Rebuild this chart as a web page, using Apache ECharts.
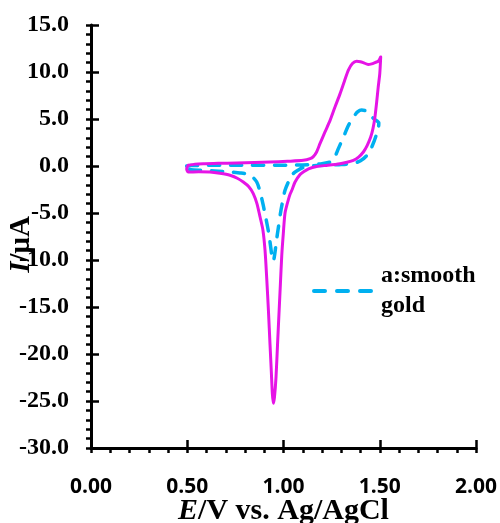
<!DOCTYPE html>
<html>
<head>
<meta charset="utf-8">
<script src="https://cdn.jsdelivr.net/npm/echarts@6/dist/echarts.min.js"></script>
<style>
html,body{margin:0;padding:0;background:#fff;}
#chart{width:500px;height:523px;}
</style>
</head>
<body>
<div id="chart"></div>
<script>
// Axis ranges and tick labels
const xMin = 0, xMax = 2, xStep = 0.5;
const yMin = -30, yMax = 15, yStep = 5;
const xTickLabels = ['0.00', '0.50', '1.00', '1.50', '2.00'];
const yTickLabels = ['-30.0', '-25.0', '-20.0', '-15.0', '-10.0', '-5.0', '0.0', '5.0', '10.0', '15.0'];

// Series b (magenta, solid): [E (V), I (uA)] in scan order
const curveB = [
  [0.505, 0.07], [0.54, 0.2], [0.583, 0.25], [0.66, 0.28], [0.757, 0.32], [0.85, 0.37], [0.93, 0.42],
  [1.02, 0.5], [1.103, 0.6], [1.138, 0.78], [1.155, 1.0], [1.172, 1.49], [1.19, 2.4], [1.215, 3.6],
  [1.242, 4.85], [1.268, 6.3], [1.294, 7.7], [1.316, 9.0], [1.337, 10.2], [1.358, 10.9], [1.38, 11.15],
  [1.40, 11.1], [1.414, 11.0], [1.44, 10.8], [1.458, 10.87], [1.475, 11.0], [1.493, 11.15], [1.505, 11.6],
  [1.500, 9.8], [1.492, 8.4], [1.484, 6.8], [1.475, 5.2], [1.465, 4.0], [1.453, 3.08], [1.435, 2.2],
  [1.415, 1.49], [1.39, 0.95], [1.363, 0.6], [1.33, 0.4], [1.294, 0.25], [1.23, 0.08], [1.172, -0.05],
  [1.13, -0.3], [1.103, -0.64], [1.086, -0.9], [1.06, -1.7], [1.045, -2.5], [1.034, -3.0], [1.025, -3.6],
  [1.008, -5.0], [0.999, -7.2], [0.991, -9.5], [0.984, -12.5], [0.977, -15.5], [0.969, -19], [0.961, -22.5],
  [0.953, -24.6], [0.947, -25.25], [0.942, -24.2], [0.937, -22.0], [0.93, -19], [0.922, -15.5], [0.913, -12],
  [0.904, -8.96], [0.893, -6.8], [0.878, -5.4], [0.862, -4.0], [0.843, -2.93], [0.82, -2.2], [0.791, -1.7],
  [0.76, -1.3], [0.722, -0.99], [0.67, -0.78], [0.618, -0.64], [0.56, -0.62], [0.505, -0.64],
  [0.497, -0.28], [0.505, 0.07]
];

// Series a: smooth gold (cyan, dashed): [E (V), I (uA)] in scan order
const curveA = [
  [0.497, 0.0], [0.52, 0.05], [0.6, 0.07], [0.7, 0.07], [0.826, 0.07], [0.95, 0.08], [1.05, 0.1],
  [1.15, 0.15], [1.2, 0.25], [1.242, 0.42], [1.265, 0.9], [1.285, 1.85], [1.31, 3.0], [1.337, 4.3],
  [1.363, 5.2], [1.385, 5.75], [1.406, 5.95], [1.43, 5.85], [1.449, 5.45], [1.47, 5.0], [1.495, 4.6],
  [1.493, 4.0], [1.484, 3.4], [1.47, 2.6], [1.458, 2.0], [1.432, 1.1], [1.40, 0.55], [1.363, 0.28],
  [1.30, 0.15], [1.24, 0.1], [1.172, 0.05], [1.13, -0.05], [1.103, -0.15], [1.075, -0.45], [1.051, -0.8],
  [1.03, -1.5], [1.008, -2.58], [0.997, -3.6], [0.984, -5.05], [0.973, -6.6], [0.963, -8.0], [0.955, -9.3],
  [0.947, -10.1], [0.94, -9.6], [0.932, -8.4], [0.922, -7.0], [0.909, -5.6], [0.895, -4.2], [0.879, -2.8],
  [0.861, -1.7], [0.83, -1.0], [0.80, -0.8], [0.774, -0.74], [0.70, -0.6], [0.583, -0.46], [0.52, -0.4],
  [0.50, -0.3], [0.497, 0.0]
];

const nameA = 'a:smooth gold';
const nameB = 'b';

const serif = 'Liberation Serif, Times New Roman, serif';
const axisColor = '#000';
const cyan = '#00B0F0';

const chart = echarts.init(document.getElementById('chart'), null, {renderer: 'canvas'});

const xBase = {
  type: 'value', min: xMin, max: xMax, interval: xStep, position: 'bottom',
  splitLine: {show: false}
};
const yBase = {
  type: 'value', min: yMin, max: yMax, interval: yStep, position: 'left',
  splitLine: {show: false}
};

chart.setOption({
  animation: false,
  backgroundColor: '#fff',
  grid: {left: 91, right: 24, top: 25, bottom: 75, containLabel: false, outerBoundsMode: 'none'},
  legend: {
    data: [nameA],
    left: 312, top: 246, padding: 0,
    itemWidth: 62, itemHeight: 14,
    formatter: () => 'a:smooth\ngold',
    itemStyle: {opacity: 0, borderWidth: 0},
    lineStyle: {color: cyan, width: 4, type: [11, 12], cap: 'round', opacity: 1},
    textStyle: {fontFamily: serif, fontWeight: 'bold', fontSize: 24, color: '#000', lineHeight: 30, padding: [30, 0, 0, 0]}
  },
  xAxis: [
    Object.assign({}, xBase, {
      axisLine: {show: true, onZero: false, lineStyle: {color: axisColor, width: 3}},
      axisTick: {show: true, inside: false, length: 5, lineStyle: {color: axisColor, width: 2.5}},
      minorTick: {show: true, splitNumber: 5, length: 5, lineStyle: {color: axisColor, width: 2.5}},
      axisLabel: {
        show: true, margin: 29, color: '#000', fontFamily: 'Open Sans, DejaVu Sans, sans-serif',
        fontWeight: 'bold', fontSize: 21,
        formatter: (v) => xTickLabels[Math.round((v - xMin) / xStep)]
      },
      name: '{i|E}/V vs. Ag/AgCl',
      nameLocation: 'middle', nameGap: 48, nameMoveOverlap: false,
      nameTextStyle: {
        fontFamily: serif, fontWeight: 'bold', fontSize: 30, color: '#000',
        rich: {i: {fontFamily: serif, fontWeight: 'bold', fontStyle: 'italic', fontSize: 30, color: '#000'}}
      }
    }),
    Object.assign({}, xBase, {
      axisLine: {show: false, onZero: false},
      axisTick: {show: true, inside: true, length: 8, lineStyle: {color: axisColor, width: 2.5}},
      axisLabel: {show: false}
    })
  ],
  yAxis: [
    Object.assign({}, yBase, {
      axisLine: {show: true, onZero: false, lineStyle: {color: axisColor, width: 3}},
      axisTick: {show: true, inside: false, length: 5, lineStyle: {color: axisColor, width: 2.5}},
      minorTick: {show: true, splitNumber: 5, length: 5, lineStyle: {color: axisColor, width: 2.5}},
      axisLabel: {
        show: true, margin: 22, color: '#000', fontFamily: serif, fontWeight: 'bold', fontSize: 24,
        formatter: (v) => yTickLabels[Math.round((v - yMin) / yStep)]
      },
      name: '{i|I}/μA',
      nameLocation: 'middle', nameGap: 55, nameMoveOverlap: false,
      nameTextStyle: {
        fontFamily: serif, fontWeight: 'bold', fontSize: 29, color: '#000', padding: [0, 16, 0, 0],
        rich: {i: {fontFamily: serif, fontWeight: 'bold', fontStyle: 'italic', fontSize: 29, color: '#000'}}
      }
    }),
    Object.assign({}, yBase, {
      axisLine: {show: false, onZero: false},
      axisTick: {show: true, inside: true, length: 8, lineStyle: {color: axisColor, width: 2.5}},
      axisLabel: {show: false}
    })
  ],
  series: [
    {
      name: nameB, type: 'line', xAxisIndex: 0, yAxisIndex: 0,
      data: curveB, symbol: 'none', smooth: 0.25, z: 3,
      lineStyle: {color: '#E614E6', width: 3, cap: 'round', join: 'round'}
    },
    {
      name: nameA, type: 'line', xAxisIndex: 0, yAxisIndex: 0,
      data: curveA, symbol: 'none', showSymbol: false, smooth: 0.25, z: 2,
      itemStyle: {color: cyan},
      lineStyle: {color: cyan, width: 3.5, type: [11, 11], cap: 'round', join: 'round'}
    }
  ]
});
</script>
</body>
</html>
